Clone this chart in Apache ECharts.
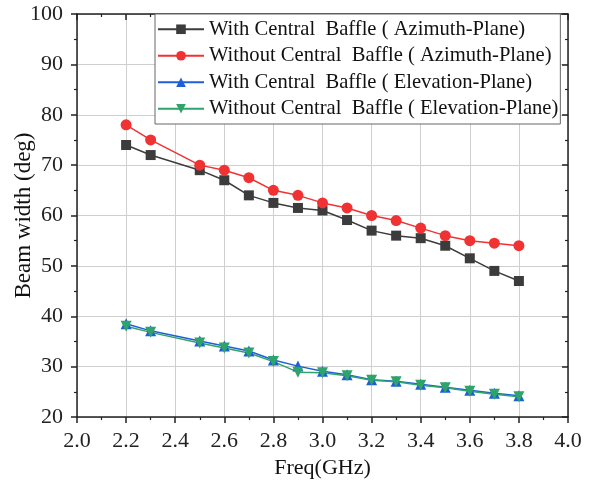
<!DOCTYPE html>
<html>
<head>
<meta charset="utf-8">
<script src="https://cdn.jsdelivr.net/npm/echarts@6/dist/echarts.min.js"></script>
<style>
  html, body { margin: 0; padding: 0; background: #fff; }
  #chart { width: 595px; height: 482px; }
</style>
</head>
<body>
<div id="chart"></div>
<script>
// Frequency points (GHz)
const freq = [2.2, 2.3, 2.5, 2.6, 2.7, 2.8, 2.9, 3.0, 3.1, 3.2, 3.3, 3.4, 3.5, 3.6, 3.7, 3.8];

// Beam width (deg)
const withBaffleAz    = [74.0, 72.0, 69.0, 67.0, 64.0, 62.5, 61.5, 61.0, 59.1, 57.0, 56.0, 55.5, 54.0, 51.5, 49.0, 47.0];
const withoutBaffleAz = [78.0, 75.0, 70.0, 69.0, 67.5, 65.0, 64.0, 62.5, 61.5, 60.0, 59.0, 57.5, 56.0, 55.0, 54.5, 54.0];
const withBaffleEl    = [38.5, 37.1, 35.1, 34.1, 33.1, 31.3, 30.1, 29.1, 28.4, 27.4, 27.1, 26.5, 25.9, 25.3, 24.7, 24.2];
const withoutBaffleEl = [38.0, 36.8, 34.7, 33.7, 32.7, 31.0, 28.9, 28.8, 28.2, 27.3, 27.0, 26.3, 25.8, 25.1, 24.5, 24.0];

const seriesNames = [
  'With Central  Baffle ( Azimuth-Plane)',
  'Without Central  Baffle ( Azimuth-Plane)',
  'With Central  Baffle ( Elevation-Plane)',
  'Without Central  Baffle ( Elevation-Plane)'
];

const xTicks = { min: 2.0, max: 4.0, step: 0.2 };
const yTicks = { min: 20, max: 100, step: 10 };

const serif = 'Liberation Serif, Times New Roman, serif';
const axisColor = '#222';

function pairs(ys) { return freq.map((f, i) => [f, ys[i]]); }

function makeSeries(name, ys, color, symbol, size) {
  return {
    name, type: 'line', data: pairs(ys),
    symbol, symbolSize: size,
    lineStyle: { color, width: 1.5 },
    itemStyle: { color },
    emphasis: { disabled: true },
    z: 3
  };
}

const chart = echarts.init(document.getElementById('chart'), null, { renderer: 'canvas' });

const outerAxis = (extra) => Object.assign({
  axisLine: { show: true, onZero: false, lineStyle: { color: axisColor, width: 1.5 } },
  axisTick: { show: true, length: 6, lineStyle: { color: axisColor, width: 1.5 } },
  minorTick: { show: true, splitNumber: 2, length: 3, lineStyle: { color: axisColor, width: 1.2 } }
}, extra);

chart.setOption({
  animation: false,
  backgroundColor: '#fff',
  grid: { left: 77, right: 27, top: 14, bottom: 65, containLabel: false, outerBoundsMode: 'none' },
  legend: {
    orient: 'vertical',
    left: 155, top: 14,
    padding: [2, 2, 2, 2],
    itemGap: 0,
    itemWidth: 46, itemHeight: 12,
    backgroundColor: '#fff',
    borderColor: '#666', borderWidth: 1,
    textStyle: { fontFamily: serif, fontSize: 20.6, color: '#111', lineHeight: 26.5 },
    data: seriesNames
  },
  xAxis: [
    outerAxis({
      type: 'value', min: xTicks.min, max: xTicks.max, interval: xTicks.step,
      position: 'bottom',
      name: 'Freq(GHz)', nameLocation: 'middle', nameGap: 40, nameMoveOverlap: false,
      nameTextStyle: { fontFamily: serif, fontSize: 22, color: '#111' },
      axisLabel: { fontFamily: serif, fontSize: 22, color: '#222', margin: 13,
                   formatter: v => v.toFixed(1) },
      splitLine: { show: true, lineStyle: { color: '#cfcfcf', width: 1 } }
    }),
    outerAxis({
      type: 'value', min: xTicks.min, max: xTicks.max, interval: xTicks.step,
      position: 'top',
      axisTick: { show: true, inside: true, length: 6, lineStyle: { color: axisColor, width: 1.5 } },
      minorTick: { show: true, splitNumber: 2, length: 3, lineStyle: { color: axisColor, width: 1.2 } },
      axisLabel: { show: false },
      splitLine: { show: false }
    })
  ],
  yAxis: [
    outerAxis({
      type: 'value', min: yTicks.min, max: yTicks.max, interval: yTicks.step,
      position: 'left',
      name: 'Beam width (deg)', nameLocation: 'middle', nameGap: 42, nameMoveOverlap: false,
      nameTextStyle: { fontFamily: serif, fontSize: 23, color: '#111' },
      axisLabel: { fontFamily: serif, fontSize: 22, color: '#222', margin: 14 },
      splitLine: { show: true, lineStyle: { color: '#cfcfcf', width: 1 } }
    }),
    outerAxis({
      type: 'value', min: yTicks.min, max: yTicks.max, interval: yTicks.step,
      position: 'right',
      axisTick: { show: true, inside: true, length: 6, lineStyle: { color: axisColor, width: 1.5 } },
      minorTick: { show: true, splitNumber: 2, length: 3, lineStyle: { color: axisColor, width: 1.2 } },
      axisLabel: { show: false },
      splitLine: { show: false }
    })
  ],
  series: [
    makeSeries(seriesNames[0], withBaffleAz,    '#3c3c3c', 'rect', 10),
    makeSeries(seriesNames[1], withoutBaffleAz, '#f03232', 'circle', 11),
    makeSeries(seriesNames[2], withBaffleEl,    '#1f5fd6', 'triangle', 11),
    makeSeries(seriesNames[3], withoutBaffleEl, '#2ea36a', 'path://M0,0 L10,0 L5,9 Z', 11)
  ]
});
</script>
</body>
</html>
